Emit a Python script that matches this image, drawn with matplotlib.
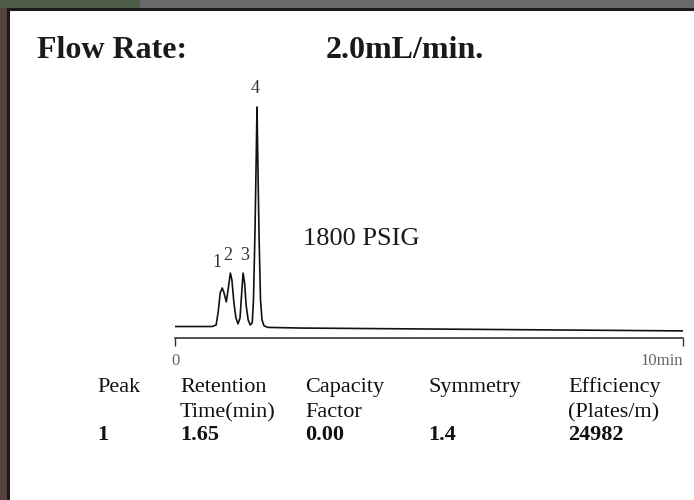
import matplotlib
matplotlib.use("Agg")
import matplotlib.pyplot as plt
from matplotlib.patches import Rectangle

# ---------------- data ----------------
trace_time = [0.00, 0.49, 0.73, 0.81, 0.85, 0.89, 0.93, 0.96, 1.01, 1.05, 1.09,
              1.12, 1.16, 1.20, 1.24, 1.28, 1.31, 1.34, 1.37, 1.40, 1.44, 1.48,
              1.52, 1.545, 1.575, 1.598, 1.614, 1.63, 1.654, 1.683, 1.713, 1.752,
              1.83, 2.46, 10.0]
trace_signal = [0.2, 0.2, 0.2, 0.9, 6.8, 15.5, 17.7, 15.9, 11.4, 17.7, 24.5,
                21.4, 10.9, 4.1, 1.4, 4.1, 14.5, 24.5, 20.0, 10.0, 3.2, 0.9,
                1.8, 12.3, 44.0, 76.0, 100.0, 76.0, 42.0, 12.3, 3.2, 0.5,
                -0.2, -0.5, -1.8]

peak_labels = ["1", "2", "3", "4"]
peak_label_time = [0.83, 1.04, 1.38, 1.575]
peak_label_signal = [29.5, 32.7, 32.7, 108.6]

x_ticks = [0, 10]
x_tick_labels = ["0", "10min"]

title_left = "Flow Rate:"
title_right = "2.0mL/min."
pressure_note = "1800 PSIG"

table_header_1 = ["Peak", "Retention", "Capacity", "Symmetry", "Efficiency"]
table_header_2 = ["", "Time(min)", "Factor", "", "(Plates/m)"]
table_row_1 = ["1", "1.65", "0.00", "1.4", "24982"]

# ---------------- layout ----------------
W, H = 694, 500
fig = plt.figure(figsize=(W / 100, H / 100), dpi=100)
fig.patch.set_facecolor("#6e6a68")

def fx(px):
    return px / W

def fy(py):
    return 1 - py / H

# dark photo frame pieces
fig.patches.append(Rectangle((0, 0), fx(7), 1, transform=fig.transFigure,
                             facecolor="#54433f", edgecolor="none", zorder=0))
fig.patches.append(Rectangle((0, fy(8)), 1, 8 / H, transform=fig.transFigure,
                             facecolor="#6a6a6c", edgecolor="none", zorder=0))
fig.patches.append(Rectangle((0, fy(8)), fx(140), 8 / H, transform=fig.transFigure,
                             facecolor="#4d5c47", edgecolor="none", zorder=0))
# white page with black edge
fig.patches.append(Rectangle((fx(8), -0.01), 1.0, fy(9) + 0.01, transform=fig.transFigure,
                             facecolor="white", edgecolor="#1c1a1a", linewidth=2.2, zorder=1))

serif = ["Liberation Serif", "DejaVu Serif"]

# axes: x from 175px (0 min) to 683px (10 min); baseline 327px, top peak 107px
ax_left, ax_right = 175, 683
ax_bottom, ax_top = 337.5, 100
ax = fig.add_axes([fx(ax_left), fy(ax_bottom), (ax_right - ax_left) / W,
                   (ax_bottom - ax_top) / H])
ax.patch.set_alpha(0)
ax.set_zorder(3)
ax.plot(trace_time, trace_signal, color="#111111", linewidth=1.2,
        solid_joinstyle="round")
ax.set_xlim(0, 10)
ax.set_ylim(-4.8, 103.2)
for s in ["top", "right", "left"]:
    ax.spines[s].set_visible(False)
ax.spines["bottom"].set_color("#222222")
ax.spines["bottom"].set_linewidth(1.1)
ax.set_yticks([])
ax.set_xticks(x_ticks)
ax.set_xticklabels(x_tick_labels, family=serif, fontsize=12, color="#666666")
ax.tick_params(axis="x", direction="out", length=5.5, width=1.0, color="#333333", pad=6)
ax.get_xticklabels()[-1].set_horizontalalignment("right")

for lab, t, s in zip(peak_labels, peak_label_time, peak_label_signal):
    ax.text(t, s, lab, ha="center", va="center", family=serif, fontsize=13,
            color="#333333", clip_on=False)

# titles
fig.text(fx(37), fy(58), title_left, family=serif, fontsize=23, fontweight="bold",
         color="#1a1a1a", va="baseline", ha="left", zorder=4)
fig.text(fx(326), fy(58), title_right, family=serif, fontsize=23, fontweight="bold",
         color="#1a1a1a", va="baseline", ha="left", zorder=4)
fig.text(fx(303), fy(245), pressure_note, family=serif, fontsize=19,
         color="#1a1a1a", va="baseline", ha="left", zorder=4)

# table
col_x = [97, 180, 305, 428, 568]
row_y = [392, 417, 440]
for i, (row, yy) in enumerate(zip([table_header_1, table_header_2, table_row_1], row_y)):
    for txt, xx in zip(row, col_x):
        if txt:
            fig.text(fx(xx), fy(yy), txt, family=serif, fontsize=16,
                     color="#111111", va="baseline", ha="left", zorder=4,
                     fontweight="bold" if i == 2 else "normal")

fig.savefig("out.png", dpi=100, facecolor=fig.get_facecolor())
